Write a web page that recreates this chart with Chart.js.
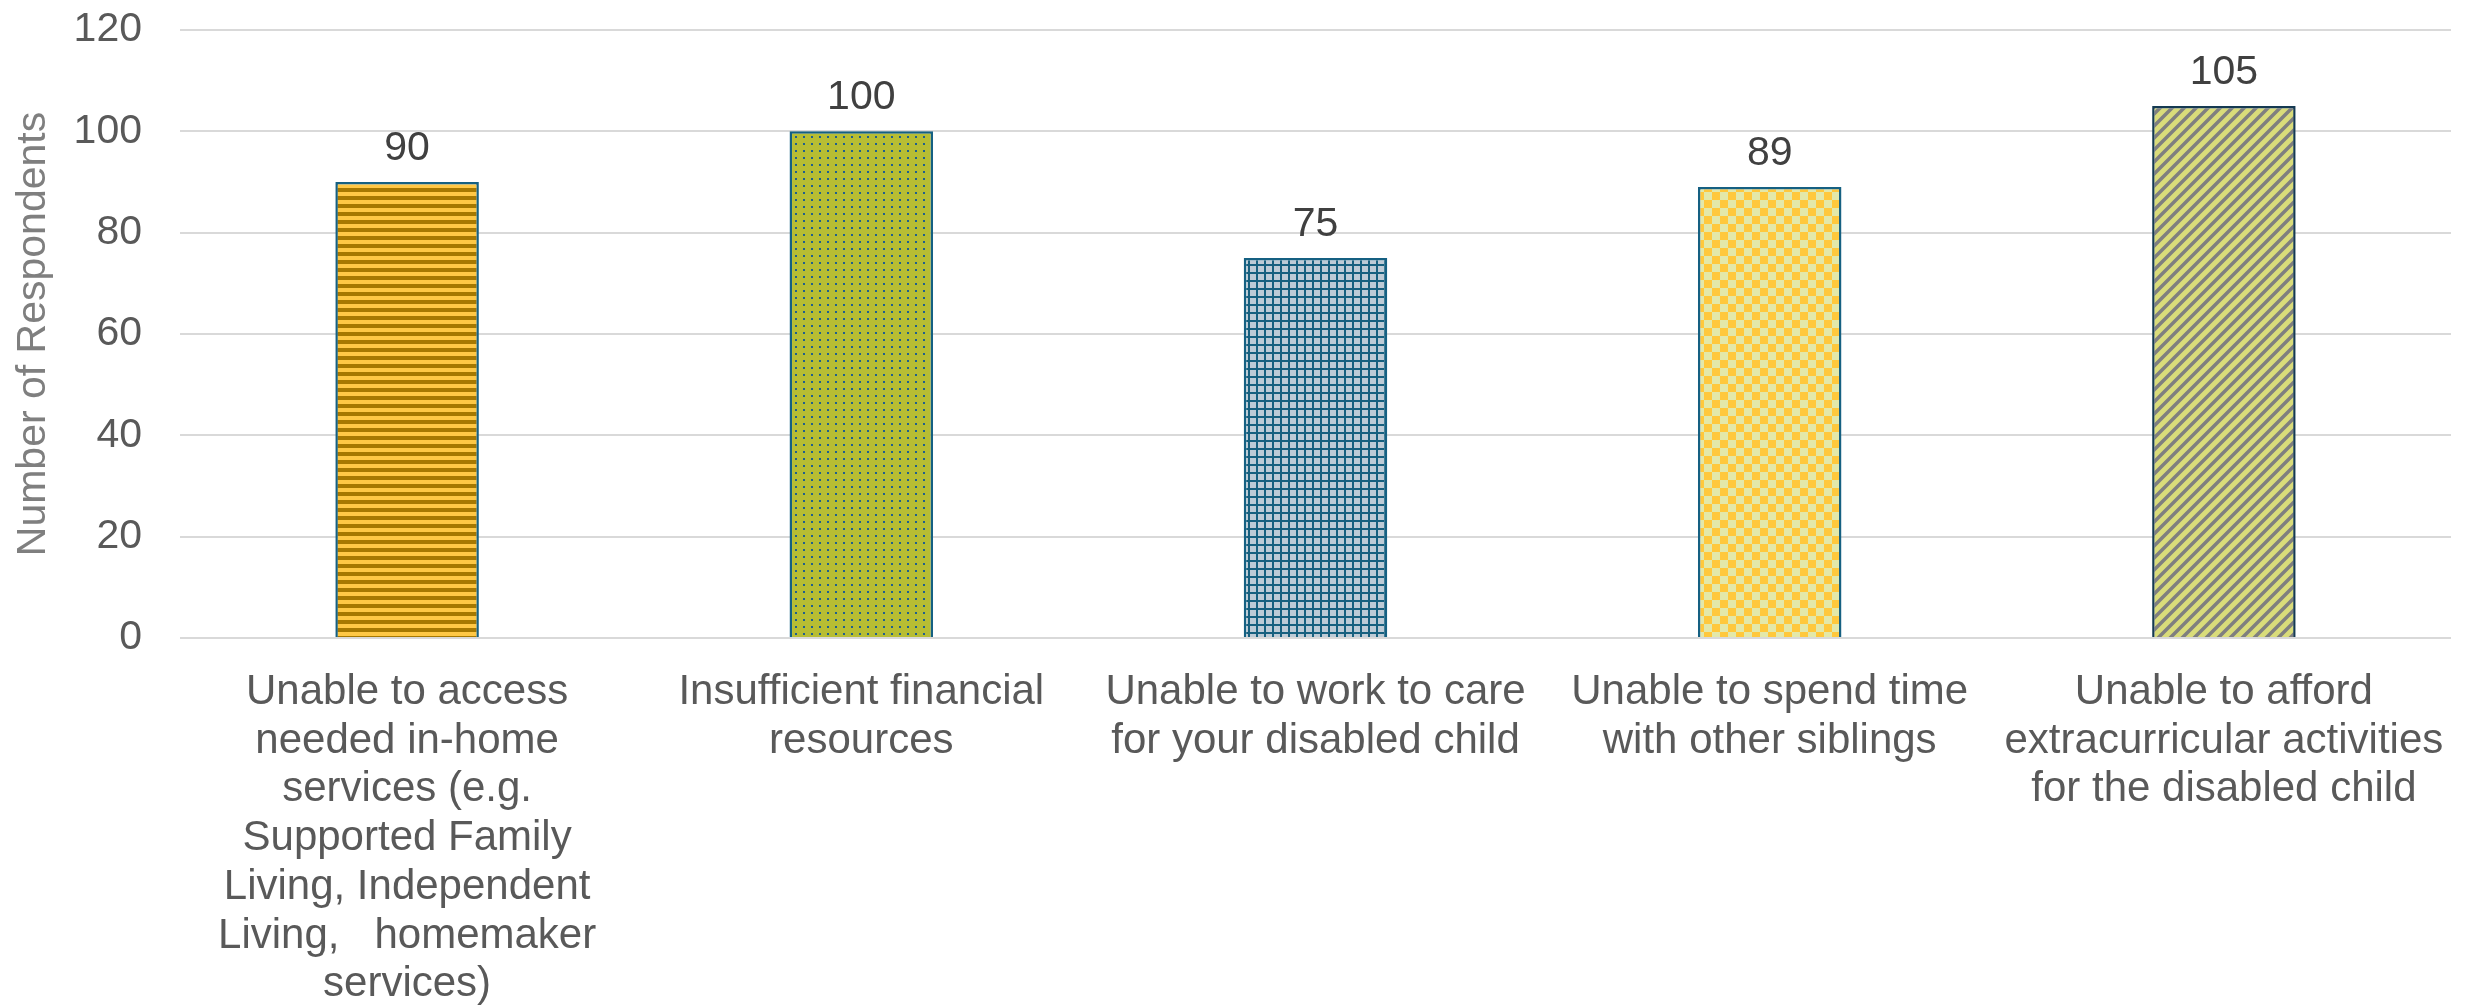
<!DOCTYPE html>
<html>
<head>
<meta charset="utf-8">
<script src="https://cdn.jsdelivr.net/npm/chart.js@4.4.1/dist/chart.umd.min.js"></script>
<style>
  html, body { margin: 0; padding: 0; background: #fff; }
  #wrap { width: 2479px; height: 1005px; }
</style>
</head>
<body>
<div id="wrap"><canvas id="barChart" width="2479" height="1005"></canvas></div>
<script>
// chart data
const categories = [
    ['Unable to access', 'needed in-home', 'services (e.g.', 'Supported Family', 'Living, Independent', 'Living,   homemaker', 'services)'],
    ['Insufficient financial', 'resources'],
    ['Unable to work to care', 'for your disabled child'],
    ['Unable to spend time', 'with other siblings'],
    ['Unable to afford', 'extracurricular activities', 'for the disabled child']
];
const respondents = [90, 100, 75, 89, 105];
const yTicks = [0, 20, 40, 60, 80, 100, 120];
const yTitle = 'Number of Respondents';

const FONT = '"Liberation Sans", Arial, sans-serif';
const canvas = document.getElementById('barChart');
const ctx = canvas.getContext('2d');

// small tiles used as bar fills (Excel-like pattern fills)
function makePattern(w, h, paint) {
    const c = document.createElement('canvas');
    c.width = w; c.height = h;
    const g = c.getContext('2d');
    paint(g, w, h);
    return ctx.createPattern(c, 'repeat');
}

const fills = [
    // horizontal stripes
    makePattern(8, 8, (g) => {
        g.fillStyle = '#FFC845'; g.fillRect(0, 0, 8, 8);
        g.fillStyle = '#A67800'; g.fillRect(0, 4, 8, 4);
    }),
    // small dots
    makePattern(8, 7, (g) => {
        g.fillStyle = '#B7BD33'; g.fillRect(0, 0, 8, 7);
        g.fillStyle = '#1E5F8E'; g.fillRect(3, 3, 2, 2);
    }),
    // small grid
    makePattern(8, 8, (g) => {
        g.fillStyle = '#BDCBD6'; g.fillRect(0, 0, 8, 8);
        g.fillStyle = '#17607F'; g.fillRect(0, 0, 8, 2); g.fillRect(0, 0, 2, 8);
    }),
    // checkerboard
    makePattern(16, 16, (g) => {
        g.fillStyle = '#E3E8A9'; g.fillRect(0, 0, 16, 16);
        g.fillStyle = '#FFC83C'; g.fillRect(0, 0, 8, 8); g.fillRect(8, 8, 8, 8);
    }),
    // upward diagonal stripes
    makePattern(12, 12, (g) => {
        g.fillStyle = '#D9DC7A'; g.fillRect(0, 0, 12, 12);
        g.strokeStyle = '#7F7F7F'; g.lineWidth = 3.5;
        g.beginPath();
        g.moveTo(-2, 14); g.lineTo(14, -2);
        g.moveTo(-8, 8); g.lineTo(8, -8);
        g.moveTo(4, 20); g.lineTo(20, 4);
        g.stroke();
    })
];
const borders = ['#156082', '#156082', '#156082', '#156082', '#153A52'];

// value labels above bars
const valueLabels = {
    id: 'valueLabels',
    afterDatasetsDraw(chart) {
        const c = chart.ctx;
        c.save();
        c.font = '41px ' + FONT;
        c.fillStyle = '#404040';
        c.textAlign = 'center';
        c.textBaseline = 'alphabetic';
        chart.getDatasetMeta(0).data.forEach((bar, i) => {
            c.fillText(String(respondents[i]), bar.x, bar.y - 22);
        });
        c.restore();
    }
};

new Chart(ctx, {
    type: 'bar',
    data: {
        labels: categories,
        datasets: [{
            data: respondents,
            backgroundColor: fills,
            borderColor: borders,
            borderWidth: 2.5,
            categoryPercentage: 1,
            barPercentage: 0.316
        }]
    },
    options: {
        responsive: false,
        animation: false,
        devicePixelRatio: 1,
        layout: { padding: { top: 30, right: 28, bottom: 0, left: 0 } },
        plugins: { legend: { display: false }, tooltip: { enabled: false } },
        scales: {
            x: {
                grid: { display: false, drawTicks: false },
                border: { display: false },
                afterFit: (s) => { s.height = 367; },
                ticks: {
                    color: '#595959',
                    font: { family: FONT, size: 42, lineHeight: 1.16 },
                    padding: 30,
                    maxRotation: 0,
                    minRotation: 0,
                    autoSkip: false
                }
            },
            y: {
                min: yTicks[0],
                max: yTicks[yTicks.length - 1],
                afterBuildTicks: (axis) => { axis.ticks = yTicks.map(v => ({ value: v })); },
                afterFit: (s) => { s.width = 180; },
                // gap between labels and plot comes from an invisible tick mark,
                // so the tick padding does not push the plot top down
                grid: { color: '#D9D9D9', lineWidth: 2, drawTicks: true, tickLength: 38, tickColor: 'rgba(0,0,0,0)' },
                border: { display: false },
                ticks: {
                    color: '#595959',
                    font: { family: FONT, size: 41, lineHeight: 1.2 },
                    padding: 0
                },
                title: {
                    display: true,
                    text: yTitle,
                    color: '#7F7F7F',
                    font: { family: FONT, size: 41, lineHeight: 1.2 },
                    padding: { top: 9, bottom: 17 }
                }
            }
        }
    },
    plugins: [valueLabels]
});
</script>
</body>
</html>
